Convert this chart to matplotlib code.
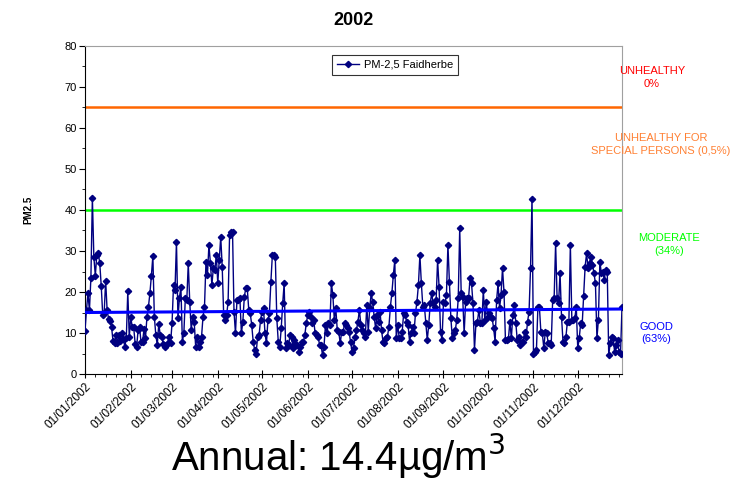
import numpy as np
import pandas as pd
import matplotlib
matplotlib.use("Agg")
from matplotlib import pyplot as plt
import matplotlib.dates as mdates

plt.rcParams['font.family'] = ['Liberation Sans', 'DejaVu Sans']

# daily PM2.5, Faidherbe, 2002 (one list per month)
jan = [10.5, 15.6, 19.7, 15.5, 23.5, 43, 28.5, 24, 29, 29.5, 27, 21.5, 14.5, 15, 22.8, 15.5,
       13.5, 13, 11.5, 8, 7.5, 9.5, 7.5, 9.5, 8, 10, 8.5, 6.7, 8.7, 20.2, 9]
feb = [14, 11.4, 11.4, 7.4, 6.7, 10.7, 11.4, 7.7, 7.7, 11, 8.7, 14, 16.4, 19.7, 24, 28.8,
       14, 9.5, 7.1, 12.2, 9.5, 9, 7.4, 6.7, 7.1, 7.5, 9, 7.5]
mar = [12.4, 21.7, 20.5, 32.3, 13.6, 18.5, 21.3, 7.9, 9.9, 18.5, 18, 27, 17.6, 10.7, 14, 12.8,
       6.7, 9.1, 6.7, 7.9, 9.1, 14, 16.4, 27.4, 24.1, 31.5, 27, 21.7, 25.8, 25.4, 29]
apr = [22.1, 27.8, 33.5, 26.2, 14.4, 13.2, 14.4, 17.6, 33.9, 34.7, 34.7, 15.2, 9.9, 18, 18,
       18.5, 9.9, 12.8, 18.9, 20.9, 20.9, 15.6, 14.8, 12, 7.9, 5.9, 5, 9.1, 9.5, 13.2]
may = [15.2, 16, 9.9, 7.5, 13.2, 14.8, 22.5, 29, 29, 28.6, 13.6, 7.9, 6.7, 11.1, 17.2, 22.1,
       6.3, 7.5, 7.1, 9.5, 9.1, 6.3, 8.3, 7.1, 7.1, 5.4, 6.7, 7.9, 7.9, 9.5, 12.4]
jun = [14.4, 15.2, 14, 12.4, 13.2, 9.9, 9.5, 9.1, 7.1, 7.1, 4.6, 6.7, 12, 9.9, 12.4, 12,
       22.1, 19.3, 13.2, 16, 10.7, 10.3, 7.5, 10.3, 10.3, 12.4, 12, 11.1, 10.3, 7.9]
jul = [5.4, 6.3, 9.1, 10.7, 12.8, 15.6, 12, 10.7, 9.9, 9.1, 16.8, 10.3, 16, 19.7, 17.6, 14,
       11.1, 14.4, 12.8, 15.2, 10.7, 7.9, 7.5, 8.7, 9.1, 11.5, 16.4, 19.7, 24.1, 27.8, 8.7]
aug = [12, 8.7, 8.7, 10.3, 14.8, 14.4, 12.8, 12, 7.9, 9.9, 11.5, 9.9, 14.8, 17.6, 21.7, 29,
       22.1, 16.4, 16.8, 12.4, 8.3, 12, 17.2, 19.7, 17.2, 16.4, 18, 27.8, 21.3, 10.3, 8.3]
sep = [17.6, 17.2, 19.3, 31.5, 22.5, 13.6, 8.7, 9.9, 10.7, 13.2, 18.5, 35.5, 19.7, 18.9, 9.9,
       17.6, 18.5, 18.5, 23.3, 22.1, 17.2, 5.9, 12.4, 12.8, 15.6, 12.4, 12.4, 20.5, 13.2, 17.6]
oct_ = [14, 15, 14, 13.6, 11.1, 7.9, 18, 22.1, 16, 19.3, 25.8, 20.1, 8.3, 8.3, 8.5, 12.8,
        8.7, 14.4, 16.8, 12.4, 8.3, 9, 7.1, 7.9, 7.9, 10.3, 9.1, 12.8, 15.2, 25.8, 42.8]
nov = [5, 5.4, 5.9, 16.4, 16.4, 10.3, 9.9, 6.3, 10.3, 9.9, 7.5, 7.5, 7.1, 18, 18.5, 31.9,
       18.5, 17.2, 24.6, 14, 7.9, 7.5, 9.1, 12.8, 12.8, 31.5, 13.2, 13.2, 13.6, 16.4]
dec = [6.3, 8.7, 12.4, 12, 19, 26.2, 29.4, 25.8, 27, 28.6, 26.6, 24.6, 22.1, 8.7, 13.2, 27.4,
       24.6, 25, 23, 25.4, 25, 4.6, 7.5, 9.1, 8.7, 5.4, 7.1, 8.3, 5.4, 5, 16.4]

pm25 = np.array(jan + feb + mar + apr + may + jun + jul + aug + sep + oct_ + nov + dec)
dates = pd.date_range('2002-01-01', periods=len(pm25), freq='D')

# trendline ends (first day, last day)
trend = [15.0, 15.85]

# limits (µg/m3) and the labels on the right
limits = [65, 40]
limit_colors = ['#FF6600', '#00FF00']
zones = ['UNHEALTHY\n0%', 'UNHEALTHY FOR\nSPECIAL PERSONS (0,5%)', 'MODERATE\n(34%)', 'GOOD\n(63%)']
zone_colors = ['#FF0000', '#FF8033', '#00FF00', '#0000FF']

fig = plt.figure(figsize=(7.48, 4.83), dpi=100)
ax = fig.add_axes([85 / 748, 1 - 374 / 483, (622 - 85) / 748, (374 - 46) / 483])

ax.plot(dates, pm25, color='#000080', lw=1, marker='D', ms=3.2, label='PM-2,5 Faidherbe', zorder=3)
for lim, c in zip(limits, limit_colors):
    ax.axhline(lim, color=c, lw=1.8, zorder=2)
ax.plot([dates[0], dates[-1]], trend, color='#0000FF', lw=2.2, zorder=4)

ax.set_xlim(dates[0], dates[-1])
ax.set_ylim(0, 80)
ax.set_yticks(np.arange(0, 81, 10))
ax.set_yticks(np.arange(0, 81, 5), minor=True)
ax.xaxis.set_major_locator(mdates.MonthLocator())
ax.xaxis.set_major_formatter(mdates.DateFormatter('%d/%m/%Y'))
ax.xaxis.set_minor_locator(mdates.DayLocator(bymonthday=[8, 15, 22, 29]))
ax.tick_params(axis='y', which='major', direction='out', length=4, labelsize=8, pad=2)
ax.tick_params(axis='y', which='minor', direction='out', length=2.5)
ax.tick_params(axis='x', which='major', direction='inout', length=6, labelsize=8.5, pad=2)
ax.tick_params(axis='x', which='minor', direction='out', length=2.5)
for lab in ax.get_xticklabels():
    lab.set_rotation(45)
    lab.set_ha('right')
    lab.set_rotation_mode('anchor')

for s in ['top', 'right']:
    ax.spines[s].set_color('#A0A0A0')
ax.spines['left'].set_color('black')
ax.spines['bottom'].set_color('black')

ax.set_ylabel('PM2.5', fontsize=7, fontweight='bold', labelpad=22)
ax.set_title('2002', fontsize=13, fontweight='bold', pad=15)

leg = ax.legend(loc='upper center', bbox_to_anchor=(0.577, 0.973), fontsize=8, frameon=True,
                fancybox=False, edgecolor='black', handlelength=2.0, borderpad=0.45,
                handletextpad=0.4, borderaxespad=0)
leg.get_frame().set_linewidth(0.8)

zone_xy = [(652, 77.5), (661, 144.5), (669, 244.5), (656, 333)]
for txt, c, (x, y) in zip(zones, zone_colors, zone_xy):
    fig.text(x / 748, 1 - y / 483, txt, color=c, fontsize=8, ha='center', va='center',
             linespacing=1.35)

fig.text(338 / 748, 1 - 456 / 483, 'Annual: 14.4µg/m$^3$', fontsize=29, ha='center', va='center')

fig.savefig('out.png', dpi=100)
